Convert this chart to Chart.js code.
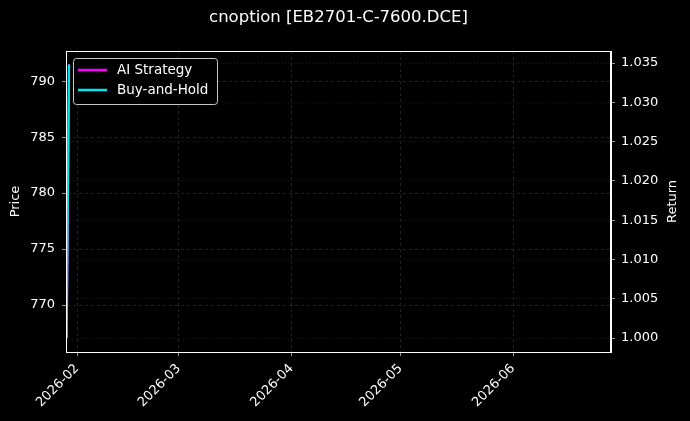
<!DOCTYPE html>
<html>
<head>
<meta charset="utf-8">
<script src="https://cdn.jsdelivr.net/npm/chart.js@4.4.1/dist/chart.umd.min.js"></script>
<style>
  html, body { margin: 0; padding: 0; background: #000; }
  #wrap { width: 690px; height: 421px; }
</style>
</head>
<body>
<div id="wrap"><canvas id="myChart" width="690" height="421"></canvas></div>
<script>
// days counted from 2026-01-01 (day 0)
const days = [28.15, 28.8];
const price = [767.0, 791.5];
const aiStrategy = [1.0, 1.0348];
const buyAndHold = [1.0, 1.0348];

const monthTicks = [31, 59, 90, 120, 151];
const monthLabels = ['2026-02', '2026-03', '2026-04', '2026-05', '2026-06'];
const priceTicks = [770, 775, 780, 785, 790];
const returnTicks = [1.000, 1.005, 1.010, 1.015, 1.020, 1.025, 1.030, 1.035];

const gridColor = 'rgba(128,128,128,0.45)';
const font = { family: 'DejaVu Sans', size: 13 };

function toPoints(ys) {
    return days.map((d, i) => ({ x: d, y: ys[i] }));
}

const bgPlugin = {
    id: 'bg',
    beforeDraw(chart) {
        const ctx = chart.ctx;
        ctx.save();
        ctx.fillStyle = '#000';
        ctx.fillRect(0, 0, chart.width, chart.height);
        ctx.restore();
    }
};

// spines, axis titles and legend box drawn on top, like matplotlib
const frameLegend = {
    id: 'frameLegend',
    afterDatasetsDraw(chart) {
        const ctx = chart.ctx;
        const a = chart.chartArea;
        ctx.save();
        ctx.strokeStyle = '#fff';
        ctx.lineWidth = 1;
        ctx.strokeRect(a.left + 0.5, a.top + 0.5, a.right - a.left - 1, a.bottom - a.top);

        // axis titles (both read bottom to top)
        const midY = (a.top + a.bottom) / 2;
        ctx.fillStyle = '#fff';
        ctx.font = '13px "DejaVu Sans"';
        ctx.textAlign = 'center';
        ctx.textBaseline = 'middle';
        [['Price', 16], ['Return', 673]].forEach(([t, tx]) => {
            ctx.save();
            ctx.translate(tx, midY);
            ctx.rotate(-Math.PI / 2);
            ctx.fillText(t, 0, 0);
            ctx.restore();
        });

        // legend
        const x = a.left + 7, y = a.top + 7, w = 144, h = 46;
        ctx.fillStyle = 'rgba(0,0,0,0.8)';
        ctx.strokeStyle = 'rgba(220,220,220,0.9)';
        ctx.lineWidth = 1;
        ctx.beginPath();
        ctx.roundRect(x + 0.5, y + 0.5, w, h, 3);
        ctx.fill();
        ctx.stroke();
        const items = [
            { label: 'AI Strategy', color: '#ff00ff' },
            { label: 'Buy-and-Hold', color: '#00e5ee' }
        ];
        ctx.font = '13.5px "DejaVu Sans"';
        ctx.textAlign = 'left';
        items.forEach((it, i) => {
            const ly = y + 12 + i * 20;
            ctx.strokeStyle = it.color;
            ctx.lineWidth = 2.5;
            ctx.beginPath();
            ctx.moveTo(x + 5, ly);
            ctx.lineTo(x + 34, ly);
            ctx.stroke();
            ctx.fillStyle = '#fff';
            ctx.fillText(it.label, x + 44, ly);
        });
        ctx.restore();
    }
};

const config = {
    type: 'line',
    data: {
        datasets: [
            {
                label: 'Buy-and-Hold',
                data: toPoints(buyAndHold),
                yAxisID: 'y1',
                borderColor: '#00e5ee',
                borderWidth: 2.2,
                pointRadius: 0,
                order: 0
            },
            {
                label: 'AI Strategy',
                data: toPoints(aiStrategy),
                yAxisID: 'y1',
                borderColor: '#ff00ff',
                borderWidth: 2.2,
                pointRadius: 0,
                order: 1
            },
            {
                label: 'Price',
                data: toPoints(price),
                yAxisID: 'y',
                borderColor: 'rgba(255,255,255,0.7)',
                borderWidth: 1.5,
                pointRadius: 0,
                order: 2
            }
        ]
    },
    options: {
        responsive: false,
        animation: false,
        layout: { padding: 0 },
        plugins: {
            legend: { display: false },
            tooltip: { enabled: false },
            title: {
                display: true,
                fullSize: false,
                text: 'cnoption [EB2701-C-7600.DCE]',
                color: '#fff',
                font: { family: 'DejaVu Sans', size: 16.5, weight: 'normal' },
                padding: { top: 8, bottom: 23.2 }
            }
        },
        scales: {
            x: {
                type: 'linear',
                min: 27.97,
                max: 177.97,
                afterBuildTicks(axis) {
                    axis.ticks = monthTicks.map(v => ({ value: v }));
                },
                afterFit(axis) { axis.height = 69; },
                ticks: {
                    color: '#fff',
                    font: font,
                    autoSkip: false,
                    minRotation: 45,
                    maxRotation: 45,
                    padding: 5,
                    callback: (v) => monthLabels[monthTicks.indexOf(v)]
                },
                grid: {
                    color: gridColor,
                    lineWidth: 0.6,
                    tickColor: '#fff',
                    tickLength: 4
                },
                border: { display: true, color: '#fff', dash: [3, 3] }
            },
            y: {
                position: 'left',
                min: 765.8,
                max: 792.7,
                afterBuildTicks(axis) {
                    axis.ticks = priceTicks.map(v => ({ value: v }));
                },
                afterFit(axis) { axis.width = 66; },
                ticks: { color: '#fff', font: font, padding: 7 },
                grid: { color: gridColor, lineWidth: 0.6, tickColor: '#fff', tickLength: 4 },
                border: { color: '#fff', dash: [3, 3] }
            },
            y1: {
                position: 'right',
                min: 0.99822,
                max: 1.03653,
                afterBuildTicks(axis) {
                    axis.ticks = returnTicks.map(v => ({ value: v }));
                },
                afterFit(axis) { axis.width = 79; },
                ticks: {
                    color: '#fff',
                    font: font,
                    padding: 6,
                    callback: (v) => v.toFixed(3)
                },
                grid: { color: 'rgba(128,128,128,0.35)', lineWidth: 0.6, tickColor: '#fff', tickLength: 4 },
                border: { color: '#fff', dash: [1, 2] }
            }
        }
    },
    plugins: [bgPlugin, frameLegend]
};

const myChart = new Chart(document.getElementById('myChart'), config);
</script>
</body>
</html>
